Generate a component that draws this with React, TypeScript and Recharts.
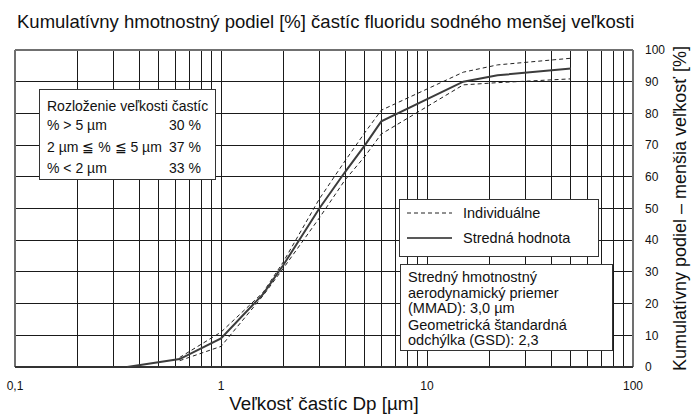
import { Legend, Line, LineChart, ReferenceLine, XAxis, YAxis } from 'recharts';

// particle size Dp [µm] and cumulative mass fraction below that size [%]
const meanSize = [0.35, 0.63, 1.0, 1.6, 2.0, 3.0, 4.0, 5.0, 6.0, 15, 22, 50];
const meanPct = [0, 2.5, 9, 23, 32, 50, 61.5, 70, 77.5, 90, 92, 94.2];

const indivSize = [0.63, 1.0, 1.6, 2.0, 3.0, 4.0, 5.0, 6.0, 15, 22, 50];
const indivHighPct = [3, 11, 23.5, 33, 53, 65, 74, 81, 93, 95.3, 97.4];
const indivLowPct = [2, 6.5, 22.5, 31, 47, 59, 66.5, 73.5, 89, 89.7, 90.9];

const xTicks = [0.1, 1, 10, 100];
const yTicks = [0, 10, 20, 30, 40, 50, 60, 70, 80, 90, 100];
const xMinor = [0.2, 0.3, 0.4, 0.5, 0.6, 0.7, 0.8, 0.9, 1, 2, 3, 4, 5, 6, 7, 8, 9, 10, 20, 30, 40, 50, 60, 70, 80, 90];
const yMinor = [10, 20, 30, 40, 50, 60, 70, 80, 90];

const distRows = [
    { label: '% > 5 µm', value: '30 %' },
    { label: '2 µm ≦ % ≦ 5 µm', value: '37 %' },
    { label: '% < 2 µm', value: '33 %' },
];

const statLines = [
    'Stredný hmotnostný',
    'aerodynamický priemer',
    '(MMAD): 3,0 µm',
    'Geometrická štandardná',
    'odchýlka (GSD): 2,3',
];

const legendItems = [
    { name: 'Individuálne', dash: '4 3', width: 1 },
    { name: 'Stredná hodnota', dash: undefined, width: 1.5 },
];

const toRows = (xs: number[], ys: number[]) => xs.map((dp, i) => ({ dp, pct: ys[i] }));

const meanData = toRows(meanSize, meanPct);
const highData = toRows(indivSize, indivHighPct);
const lowData = toRows(indivSize, indivLowPct);

const FONT = '"Liberation Sans", Arial, sans-serif';
const GRID = '#1a1a1a';
const FRAME = '#707070';
const INK = '#111';

const boxStyle: React.CSSProperties = {
    position: 'absolute',
    boxSizing: 'border-box',
    background: '#fff',
    border: '1.5px solid #333',
    fontFamily: FONT,
    fontSize: 14,
    lineHeight: '16px',
    color: INK,
};

function LegendBox() {
    return (
        <div style={{ ...boxStyle, position: 'relative', width: 200, height: 58, fontSize: 14.5 }}>
            {legendItems.map((item, i) => (
                <div key={item.name} style={{ position: 'absolute', left: 0, top: 5 + i * 25, height: 16, width: 196 }}>
                    <svg width={60} height={16} style={{ position: 'absolute', left: 0, top: 0 }}>
                        <line x1={7} x2={52} y1={8} y2={8} stroke="#222" strokeWidth={item.width} strokeDasharray={item.dash} />
                    </svg>
                    <span style={{ position: 'absolute', left: 63, top: 0, whiteSpace: 'nowrap' }}>{item.name}</span>
                </div>
            ))}
        </div>
    );
}

export default function App() {
    return (
        <div style={{ position: 'relative', width: 693, height: 419, background: '#fff', fontFamily: FONT }}>
            <style>{'body{margin:0}'}</style>
            <div style={{ position: 'absolute', left: 17, top: 12, fontSize: 18.5, lineHeight: '19px', color: INK, whiteSpace: 'nowrap' }}>
                Kumulatívny hmotnostný podiel [%] častíc fluoridu sodného menšej veľkosti
            </div>

            <LineChart width={693} height={419} margin={{ top: 50, right: 0, left: 15, bottom: 0 }}>
                <XAxis
                    dataKey="dp"
                    type="number"
                    scale="log"
                    domain={[0.1, 100]}
                    ticks={xTicks}
                    interval={0}
                    height={52}
                    axisLine={false}
                    tickLine={false}
                    tickSize={0}
                    tickMargin={14}
                    tick={{ fontSize: 12, fill: INK, fontFamily: FONT }}
                    tickFormatter={(v: number) => String(v).replace('.', ',')}
                    label={{ value: 'Veľkosť častíc Dp [µm]', position: 'insideBottom', offset: 9, fontSize: 18.8, fill: INK, fontFamily: FONT }}
                />
                <YAxis
                    orientation="right"
                    type="number"
                    domain={[0, 100]}
                    ticks={yTicks}
                    interval={0}
                    width={60}
                    axisLine={false}
                    tickLine={false}
                    tickSize={0}
                    tickMargin={12}
                    tick={{ fontSize: 12, fill: INK, fontFamily: FONT, textAnchor: 'start' }}
                    label={{ value: 'Kumulatívny podiel – menšia veľkosť [%]', angle: -90, position: 'center', dx: 17, fontSize: 18, fill: INK, fontFamily: FONT }}
                />

                {xMinor.map((v) => (
                    <ReferenceLine key={`gx-${v}`} x={v} stroke={GRID} strokeWidth={1} shapeRendering="crispEdges" />
                ))}
                {yMinor.map((v) => (
                    <ReferenceLine key={`gy-${v}`} y={v} stroke={GRID} strokeWidth={1} shapeRendering="crispEdges" />
                ))}
                <ReferenceLine x={0.1} stroke={FRAME} strokeWidth={2} />
                <ReferenceLine x={100} stroke={FRAME} strokeWidth={2} />
                <ReferenceLine y={0} stroke="#333" strokeWidth={2} />
                <ReferenceLine y={100} stroke={FRAME} strokeWidth={2} />

                <Line data={highData} dataKey="pct" name="Individuálne" type="linear" stroke="#222" strokeWidth={1} strokeDasharray="4 3" dot={false} isAnimationActive={false} />
                <Line data={lowData} dataKey="pct" name="Individuálne" legendType="none" type="linear" stroke="#222" strokeWidth={1} strokeDasharray="4 3" dot={false} isAnimationActive={false} />
                <Line data={meanData} dataKey="pct" name="Stredná hodnota" type="linear" stroke="#3c3c3c" strokeWidth={2} dot={false} isAnimationActive={false} />

                <Legend
                    layout="horizontal"
                    verticalAlign="middle"
                    align="center"
                    content={() => <LegendBox />}
                    wrapperStyle={{ left: 399, top: 199, width: 200, height: 58 }}
                />
            </LineChart>

            <div style={{ ...boxStyle, left: 39, top: 89, width: 177, height: 91 }}>
                <div style={{ position: 'absolute', left: 7, top: 8, whiteSpace: 'nowrap' }}>Rozloženie veľkosti častíc</div>
                {distRows.map((row, i) => (
                    <div key={row.label} style={{ position: 'absolute', left: 7, top: 27 + i * 21.5, width: 160, whiteSpace: 'nowrap' }}>
                        <span>{row.label}</span>
                        <span style={{ position: 'absolute', left: 122 }}>{row.value}</span>
                    </div>
                ))}
            </div>

            <div style={{ ...boxStyle, left: 400, top: 264, width: 213, height: 87, fontSize: 14.5 }}>
                {statLines.map((t, i) => (
                    <div key={t} style={{ position: 'absolute', left: 7, top: 4 + i * 15.5 + (i >= 3 ? 1 : 0), whiteSpace: 'nowrap' }}>
                        {t}
                    </div>
                ))}
            </div>
        </div>
    );
}
